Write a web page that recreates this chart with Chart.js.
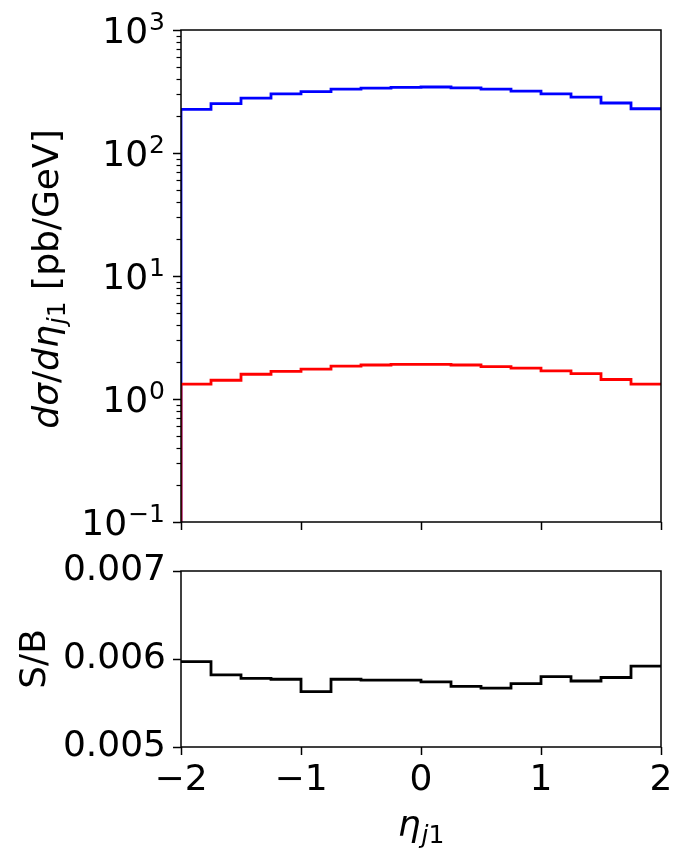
<!DOCTYPE html>
<html>
<head>
<meta charset="utf-8">
<script src="https://cdn.jsdelivr.net/npm/chart.js@4.4.0/dist/chart.umd.min.js"></script>
<style>
  html, body { margin: 0; padding: 0; background: #ffffff; }
  #wrap { position: relative; width: 689px; height: 861px; }
  canvas { position: absolute; left: 0; }
</style>
</head>
<body>
<div id="wrap">
  <canvas id="ratioChart" width="689" height="326" style="top:535px"></canvas>
  <canvas id="topChart" width="689" height="555" style="top:0"></canvas>
</div>
<script>
// --- data ---
const binEdges = [-2, -1.75, -1.5, -1.25, -1, -0.75, -0.5, -0.25, 0, 0.25, 0.5, 0.75, 1, 1.25, 1.5, 1.75, 2];
const background = [226, 252, 279, 302, 316, 330, 337, 342, 344, 339, 331, 319, 302, 285, 255, 229];
const signal = [1.32, 1.42, 1.59, 1.68, 1.75, 1.85, 1.89, 1.91, 1.91, 1.89, 1.83, 1.78, 1.69, 1.61, 1.44, 1.32];
const ratio = [0.00597, 0.00582, 0.00578, 0.00577, 0.00563, 0.00577, 0.00576, 0.00576, 0.00574, 0.00569, 0.00567, 0.00572, 0.00580, 0.00575, 0.00579, 0.00592];
const xTicks = [-2, -1, 0, 1, 2];
const logExponents = [-1, 0, 1, 2, 3];
const ratioTicks = [0.005, 0.006, 0.007];

const FONT = '"DejaVu Sans", sans-serif';
const FS = 36;
const SUB = 25;

// histogram outline: two points per bin, optional drop to the axis floor
function stepPoints(values, floor) {
    const pts = [];
    if (floor !== undefined) pts.push({ x: binEdges[0], y: floor });
    values.forEach((v, i) => {
        pts.push({ x: binEdges[i], y: v });
        pts.push({ x: binEdges[i + 1], y: v });
    });
    return pts;
}

const minusFmt = (v) => (v < 0 ? "\u2212" + Math.abs(v) : String(v));

// full box around the plot area, like matplotlib spines
const framePlugin = {
    id: "frame",
    afterDatasetsDraw(chart) {
        const { ctx, chartArea: a } = chart;
        ctx.save();
        ctx.strokeStyle = "#000";
        ctx.lineWidth = 1.5;
        ctx.strokeRect(a.left, a.top, a.right - a.left, a.bottom - a.top);
        ctx.restore();
    }
};

// minor ticks + "10^n" labels on the log axis
const logAxisPlugin = {
    id: "logAxis",
    afterDraw(chart) {
        const y = chart.scales.y;
        const { ctx, chartArea: a } = chart;
        ctx.save();
        ctx.strokeStyle = "#000";
        ctx.fillStyle = "#000";
        ctx.lineWidth = 1.2;
        const right = a.left - 16;
        y.ticks.forEach((t) => {
            const py = y.getPixelForValue(t.value);
            if (!t.major) {
                const ry = Math.round(py) + 0.5;
                ctx.beginPath();
                ctx.moveTo(a.left - 4.5, ry);
                ctx.lineTo(a.left, ry);
                ctx.stroke();
                return;
            }
            const exp = minusFmt(t.exp);
            ctx.textAlign = "right";
            ctx.textBaseline = "alphabetic";
            ctx.font = `${SUB}px ${FONT}`;
            const ew = ctx.measureText(exp).width;
            ctx.fillText(exp, right, py);
            ctx.font = `${FS}px ${FONT}`;
            ctx.fillText("10", right - ew - 1, py + 13);
        });
        ctx.restore();
    }
};

// draw text made of runs with different fonts / baseline shifts
function drawRuns(ctx, runs, cx, cy, rotation) {
    ctx.save();
    ctx.translate(cx, cy);
    ctx.rotate(rotation);
    let total = 0;
    runs.forEach((r) => {
        ctx.font = r.font;
        r.w = ctx.measureText(r.text).width + (r.gap || 0);
        total += r.w;
    });
    let x = -total / 2;
    ctx.fillStyle = "#000";
    ctx.textBaseline = "alphabetic";
    ctx.textAlign = "left";
    runs.forEach((r) => {
        ctx.font = r.font;
        ctx.fillText(r.text, x, r.dy || 0);
        x += r.w;
    });
    ctx.restore();
}

const topTitlePlugin = {
    id: "topTitle",
    afterDraw(chart) {
        const it = `italic ${FS}px ${FONT}`;
        const up = `${FS}px ${FONT}`;
        drawRuns(chart.ctx, [
            { text: "d\u03C3", font: it },
            { text: "/", font: up },
            { text: "d\u03B7", font: it, gap: 1 },
            { text: "j", font: `italic ${SUB}px ${FONT}`, dy: 7 },
            { text: "1", font: `${SUB}px ${FONT}`, dy: 7 },
            { text: " [pb/GeV]", font: up }
        ], 58, 279, -Math.PI / 2);
    }
};

const xTitlePlugin = {
    id: "xTitle",
    afterDraw(chart) {
        const a = chart.chartArea;
        drawRuns(chart.ctx, [
            { text: "\u03B7", font: `italic ${FS}px ${FONT}`, gap: 1 },
            { text: "j", font: `italic ${SUB}px ${FONT}`, dy: 7 },
            { text: "1", font: `${SUB}px ${FONT}`, dy: 7 }
        ], (a.left + a.right) / 2, 836 - 535, 0);
    }
};

const tickFont = { family: FONT, size: FS };
const axisGrid = {
    drawOnChartArea: false,
    color: "#000",
    tickColor: "#000",
    tickLength: 8,
    tickWidth: 1.5
};

Chart.defaults.color = "#000";
Chart.defaults.animation = false;

new Chart(document.getElementById("topChart"), {
    type: "line",
    data: {
        datasets: [{
            label: "signal",
            data: stepPoints(signal, 0.1),
            borderColor: "#ff0000",
            borderWidth: 2.8,
            pointRadius: 0,
            fill: false
        }, {
            label: "background",
            data: stepPoints(background, 0.1),
            borderColor: "#0000ff",
            borderWidth: 2.8,
            pointRadius: 0,
            fill: false
        }]
    },
    options: {
        responsive: false,
        devicePixelRatio: 1,
        layout: { padding: { top: 30, right: 28, left: 0, bottom: 0 } },
        plugins: { legend: { display: false }, tooltip: { enabled: false } },
        scales: {
            x: {
                type: "linear",
                min: -2,
                max: 2,
                afterBuildTicks: (s) => { s.ticks = xTicks.map((v) => ({ value: v })); },
                afterFit: (s) => { s.height = 555 - 522; },
                ticks: { display: false },
                border: { display: false },
                grid: axisGrid
            },
            y: {
                type: "logarithmic",
                min: 0.1,
                max: 1000,
                afterBuildTicks: (s) => {
                    const ticks = [];
                    logExponents.forEach((e) => {
                        const base = Math.pow(10, e);
                        ticks.push({ value: base, major: true, exp: e });
                        if (e < 3) {
                            for (let m = 2; m <= 9; m++) ticks.push({ value: m * base, major: false });
                        }
                    });
                    s.ticks = ticks;
                },
                afterFit: (s) => { s.width = 181; },
                ticks: { display: false, autoSkip: false },
                border: { display: false },
                grid: {
                    ...axisGrid,
                    tickColor: (c) => (c.tick && c.tick.major ? "#000" : "rgba(0,0,0,0)")
                }
            }
        }
    },
    plugins: [logAxisPlugin, framePlugin, topTitlePlugin]
});

new Chart(document.getElementById("ratioChart"), {
    type: "line",
    data: {
        datasets: [{
            label: "S/B",
            data: stepPoints(ratio),
            borderColor: "#000000",
            borderWidth: 2.8,
            pointRadius: 0,
            fill: false
        }]
    },
    options: {
        responsive: false,
        devicePixelRatio: 1,
        layout: { padding: { top: 571 - 535, right: 28, left: 0, bottom: 0 } },
        plugins: { legend: { display: false }, tooltip: { enabled: false } },
        scales: {
            x: {
                type: "linear",
                min: -2,
                max: 2,
                afterBuildTicks: (s) => { s.ticks = xTicks.map((v) => ({ value: v })); },
                afterFit: (s) => { s.height = 861 - 747; },
                ticks: {
                    font: tickFont,
                    padding: 4,
                    maxRotation: 0,
                    autoSkip: false,
                    callback: (v) => minusFmt(v)
                },
                border: { display: false },
                grid: axisGrid
            },
            y: {
                type: "linear",
                min: 0.005,
                max: 0.007,
                afterBuildTicks: (s) => { s.ticks = ratioTicks.map((v) => ({ value: v })); },
                afterFit: (s) => { s.width = 181; },
                ticks: {
                    font: tickFont,
                    padding: 7,
                    callback: (v) => v.toFixed(3)
                },
                title: {
                    display: true,
                    text: "S/B",
                    font: { family: FONT, size: FS },
                    padding: { top: 14 }
                },
                border: { display: false },
                grid: axisGrid
            }
        }
    },
    plugins: [framePlugin, xTitlePlugin]
});
</script>
</body>
</html>
